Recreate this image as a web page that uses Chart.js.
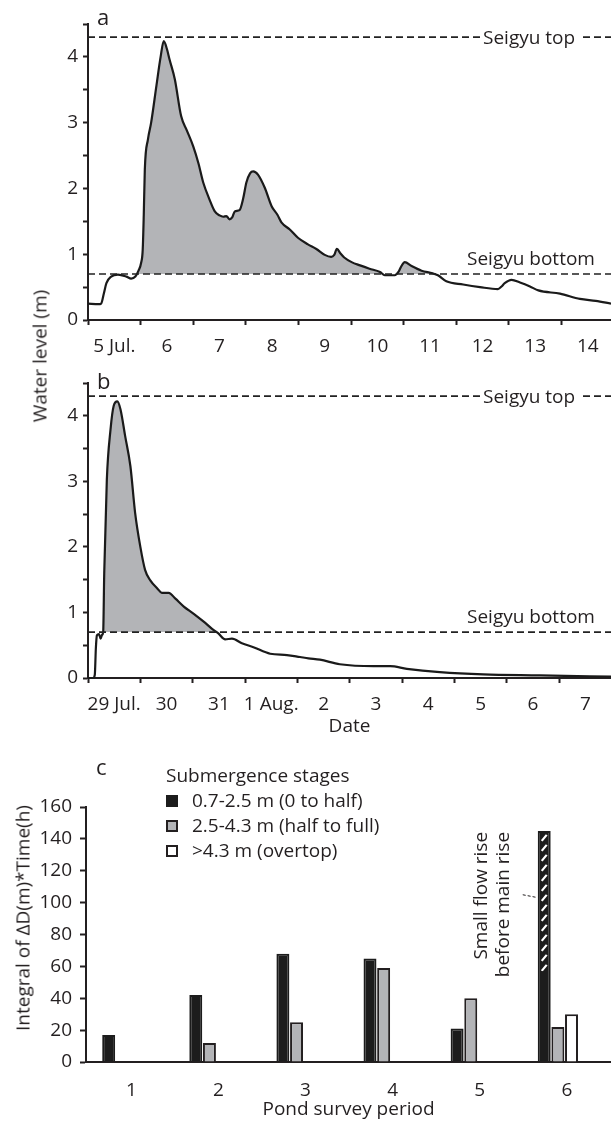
<!DOCTYPE html>
<html>
<head>
<meta charset="utf-8">
<script src="https://cdn.jsdelivr.net/npm/chart.js@4.4.1/dist/chart.umd.min.js"></script>
<style>
  html, body { margin: 0; padding: 0; background: #fff; }
  #wrap { position: relative; width: 611px; height: 1121px; overflow: hidden;
          font-family: "Open Sans", sans-serif; color: #231f20; }
  #wrap canvas { position: absolute; left: 0; }
  .lbl { position: absolute; font-size: 19px; line-height: 1; white-space: nowrap; }
  .panel { position: absolute; font-size: 22px; line-height: 1; }
  .rot { transform: translate(-50%, -50%) rotate(-90deg); }
  #legendC { position: absolute; left: 166px; top: 763px; font-size: 19px; line-height: 25px; }
  #legendC .row { display: flex; align-items: center; height: 25px; }
  #legendC .box { width: 12px; height: 12px; box-sizing: border-box; margin-right: 14px; }
</style>
</head>
<body>
<div id="wrap">
  <canvas id="chartA" width="611" height="360" style="top:0"></canvas>
  <canvas id="chartB" width="611" height="380" style="top:360px"></canvas>
  <canvas id="chartC" width="611" height="381" style="top:740px"></canvas>

  <div class="panel" style="left:97px; top:5px">a</div>
  <div class="panel" style="left:97px; top:369px">b</div>
  <div class="panel" style="left:96px; top:755px">c</div>
  <div class="lbl rot" style="left:40px; top:356px">Water level (m)</div>
  <div class="lbl rot" style="left:23px; top:918px">Integral of ΔD(m)*Time(h)</div>
  <div id="legendC"></div>
</div>

<script>
  // seigyu (weir) levels, m
  const seigyuTop = 4.3;
  const seigyuBottom = 0.7;

  // panel a: days after 5 Jul 00:00, water level (m)
  const dayA = [0, 0.2, 0.25, 0.3, 0.35, 0.44, 0.57, 0.73, 0.82, 0.9, 0.96, 1.01, 1.04, 1.06, 1.08,
    1.14, 1.2, 1.3, 1.38, 1.44, 1.5, 1.55, 1.65, 1.77, 1.88, 2.0, 2.1, 2.19, 2.31, 2.41, 2.5, 2.57,
    2.63, 2.69, 2.74, 2.79, 2.88, 2.95, 3.01, 3.08, 3.14, 3.23, 3.36, 3.49, 3.6, 3.68, 3.83, 3.99,
    4.18, 4.34, 4.5, 4.62, 4.68, 4.73, 4.8, 4.87, 5.01, 5.17, 5.35, 5.55, 5.64, 5.83, 5.9, 5.95,
    6.02, 6.15, 6.34, 6.55, 6.65, 6.81, 7.13, 7.45, 7.79, 7.86, 7.92, 8.05, 8.21, 8.4, 8.56, 8.97,
    9.35, 9.65, 9.94];
  const levelA = [0.25, 0.24, 0.25, 0.4, 0.56, 0.66, 0.69, 0.66, 0.63, 0.66, 0.75, 0.87, 1.07, 1.6, 2.29,
    2.75, 3.0, 3.56, 4.0, 4.24, 4.12, 3.96, 3.66, 3.1, 2.88, 2.64, 2.38, 2.09, 1.83, 1.65, 1.59, 1.57,
    1.58, 1.53, 1.56, 1.65, 1.67, 1.85, 2.09, 2.23, 2.26, 2.21, 2.01, 1.73, 1.6, 1.48, 1.38, 1.25,
    1.15, 1.08, 0.99, 0.96, 0.99, 1.08, 1.01, 0.95, 0.88, 0.83, 0.78, 0.73, 0.68, 0.68, 0.73, 0.81,
    0.88, 0.82, 0.75, 0.71, 0.68, 0.59, 0.54, 0.5, 0.47, 0.51, 0.56, 0.61, 0.57, 0.51, 0.45, 0.4,
    0.32, 0.29, 0.25];
  const dateLabelsA = ['5 Jul.', '6', '7', '8', '9', '10', '11', '12', '13', '14'];

  // panel b: days after 29 Jul 00:00, water level (m)
  const dayB = [0, 0.1, 0.13, 0.15, 0.17, 0.21, 0.24, 0.27, 0.29, 0.31, 0.36, 0.43, 0.49, 0.56, 0.62,
    0.71, 0.81, 0.9, 1.0, 1.09, 1.19, 1.32, 1.41, 1.54, 1.67, 1.83, 2.02, 2.21, 2.37, 2.49, 2.62,
    2.75, 2.94, 3.16, 3.48, 3.8, 4.05, 4.21, 4.43, 4.81, 5.45, 5.77, 6.09, 6.72, 7.55, 8.63, 9.99];
  const levelB = [0, 0, 0.05, 0.45, 0.65, 0.67, 0.6, 0.66, 0.7, 1.6, 3.03, 3.79, 4.15, 4.22, 4.1,
    3.69, 3.23, 2.52, 2.0, 1.65, 1.49, 1.37, 1.3, 1.3, 1.21, 1.09, 0.98, 0.86, 0.75, 0.68, 0.59,
    0.6, 0.53, 0.47, 0.37, 0.35, 0.32, 0.3, 0.28, 0.21, 0.18, 0.18, 0.14, 0.09, 0.055, 0.04, 0.02];
  const dateLabelsB = ['29 Jul.', '30', '31', '1 Aug.', '2', '3', '4', '5', '6', '7'];
  const dayTicks = [0, 1, 2, 3, 4, 5, 6, 7, 8, 9];

  // panel c: integral of dD * time per survey period
  const periods = [1, 2, 3, 4, 5, 6];
  const stageNames = ['0.7-2.5 m (0 to half)', '2.5-4.3 m (half to full)', '>4.3 m (overtop)'];
  const stageHalf = [17, 42, 68, 65, 21, 145];
  const stageFull = [null, 12, 25, 59, 40, 22];
  const stageOvertop = [null, null, null, null, null, 30];
  const smallRiseFrom = 57; // period 6: hatched part of the first bar starts here

  const ink = '#231f20';
  const grey = '#b3b4b7';
  Chart.defaults.font.family = '"Open Sans", sans-serif';
  Chart.defaults.font.size = 19;
  Chart.defaults.color = ink;

  const seigyuLabels = {
    id: 'seigyuLabels',
    afterDatasetsDraw(chart) {
      const { ctx, scales: { y } } = chart;
      const yt = y.getPixelForValue(seigyuTop);
      const yb = y.getPixelForValue(seigyuBottom);
      ctx.save();
      ctx.font = '19px "Open Sans"';
      ctx.textBaseline = 'alphabetic';
      const w = ctx.measureText('Seigyu top').width;
      ctx.fillStyle = '#fff';
      ctx.fillRect(480, yt - 4, w + 7, 8);
      ctx.fillStyle = ink;
      ctx.fillText('Seigyu top', 483, yt + 7);
      ctx.fillText('Seigyu bottom', 467, yb - 9);
      ctx.restore();
    }
  };

  function levelChart(id, days, levels, labels, xMax, xHeight, topPad, title) {
    const halfDay = (611 - 88) / xMax / 2;
    const ref = v => [{ x: 0, y: v }, { x: xMax, y: v }];
    return new Chart(document.getElementById(id), {
      type: 'line',
      data: {
        datasets: [
          {
            data: days.map((d, i) => ({ x: d, y: levels[i] })),
            borderColor: '#1a1a1a', borderWidth: 2.2, pointRadius: 0,
            cubicInterpolationMode: 'monotone', clip: 4,
            fill: { target: { value: seigyuBottom }, above: grey, below: 'rgba(0,0,0,0)' },
          },
          { data: ref(seigyuTop), borderColor: '#222', borderWidth: 1.6, borderDash: [7, 4], pointRadius: 0, fill: false, order: -1 },
          { data: ref(seigyuBottom), borderColor: '#222', borderWidth: 1.6, borderDash: [7, 4], pointRadius: 0, fill: false, order: -1 },
        ],
      },
      options: {
        responsive: false, animation: false, devicePixelRatio: 1,
        layout: { padding: { top: topPad, left: 0, right: 0, bottom: 0 } },
        plugins: { legend: { display: false }, tooltip: { enabled: false } },
        scales: {
          x: {
            type: 'linear', min: 0, max: xMax,
            border: { color: ink, width: 2 },
            grid: { drawOnChartArea: false, tickLength: 5, tickColor: ink, tickWidth: 2 },
            ticks: {
              autoSkip: false, maxRotation: 0, includeBounds: false, padding: 10,
              labelOffset: halfDay,
              callback: v => labels[v] ?? '',
            },
            afterBuildTicks: s => { s.ticks = dayTicks.map(v => ({ value: v })); },
            afterFit: s => { s.height = xHeight; },
            title: title ? { display: true, text: title, padding: { top: 0, bottom: 2 } } : { display: false },
          },
          y: {
            min: 0, max: 4.5,
            border: { color: ink, width: 2 },
            grid: { drawOnChartArea: false, tickLength: 5, tickColor: ink, tickWidth: 2 },
            ticks: { stepSize: 0.5, padding: 5, callback: v => Number.isInteger(v) ? v : '' },
            afterFit: s => { s.width = 88; },
          },
        },
      },
      plugins: [seigyuLabels],
    });
  }

  levelChart('chartA', dayA, levelA, dateLabelsA, 9.94, 40, 24, null);
  levelChart('chartB', dayB, levelB, dateLabelsB, 9.99, 62, 23, 'Date');

  // hatched "small flow rise" part of period-6 bar and its note
  const smallRise = {
    id: 'smallRise',
    afterDatasetsDraw(chart) {
      const { ctx, scales: { y } } = chart;
      const bar = chart.getDatasetMeta(0).data[periods.length - 1];
      const left = bar.x - bar.width / 2, right = bar.x + bar.width / 2;
      const top = bar.y, bottom = y.getPixelForValue(smallRiseFrom);
      ctx.save();
      ctx.beginPath();
      ctx.rect(left + 1.5, top + 1.5, right - left - 3, bottom - top - 1.5);
      ctx.clip();
      ctx.strokeStyle = '#fff';
      ctx.lineWidth = 2.2;
      for (let yy = top + 7; yy < bottom + 3; yy += 10) {
        ctx.beginPath();
        ctx.moveTo(left + 4, yy + 3);
        ctx.lineTo(right - 4, yy - 3);
        ctx.stroke();
      }
      ctx.restore();

      ctx.save();
      ctx.fillStyle = ink;
      ctx.font = '19px "Open Sans"';
      ctx.textAlign = 'right';
      ctx.textBaseline = 'alphabetic';
      ctx.translate(left, top + 1);
      ctx.rotate(-Math.PI / 2);
      ctx.fillText('Small flow rise', 0, -51);
      ctx.fillText('before main rise', 0, -29);
      ctx.restore();

      const ly = y.getPixelForValue(104);
      ctx.save();
      ctx.strokeStyle = ink;
      ctx.lineWidth = 1;
      ctx.setLineDash([3, 2]);
      ctx.beginPath();
      ctx.moveTo(left - 15, ly - 1.5);
      ctx.lineTo(left - 2, ly + 1);
      ctx.stroke();
      ctx.restore();
    }
  };

  const barColors = [
    { bg: '#1c1c1c', border: '#1c1c1c' },
    { bg: grey, border: ink },
    { bg: '#fff', border: ink },
  ];
  const stageValues = [stageHalf, stageFull, stageOvertop];

  const chartC = new Chart(document.getElementById('chartC'), {
    type: 'bar',
    data: {
      datasets: stageValues.map((vals, k) => ({
        label: stageNames[k],
        data: periods.map((p, i) => ({ x: p, y: vals[i] })),
        backgroundColor: barColors[k].bg,
        borderColor: barColors[k].border,
        borderWidth: 2,
        categoryPercentage: 0.47,
        barPercentage: 0.95,
      })),
    },
    options: {
      responsive: false, animation: false, devicePixelRatio: 1,
      layout: { padding: { top: 67, left: 0, right: 0, bottom: 0 } },
      plugins: { legend: { display: false }, tooltip: { enabled: false } },
      scales: {
        x: {
          type: 'linear', min: 0.583, max: 6.61, offset: false,
          border: { color: ink, width: 2 },
          grid: { drawOnChartArea: false, drawTicks: false, offset: false },
          ticks: { autoSkip: false, maxRotation: 0, includeBounds: false, padding: 17, labelOffset: 9 },
          afterBuildTicks: s => { s.ticks = periods.map(v => ({ value: v })); },
          afterFit: s => { s.height = 59; },
          title: { display: true, text: 'Pond survey period', padding: { top: 0, bottom: 0 } },
        },
        y: {
          min: 0, max: 160,
          border: { color: ink, width: 2 },
          grid: { drawOnChartArea: false, tickLength: 6, tickColor: ink, tickWidth: 2 },
          ticks: { stepSize: 20, padding: 8 },
          afterFit: s => { s.width = 86; },
        },
      },
    },
    plugins: [smallRise],
  });

  // legend built from the bar datasets
  const legendEl = document.getElementById('legendC');
  const head = document.createElement('div');
  head.className = 'row';
  head.textContent = 'Submergence stages';
  legendEl.appendChild(head);
  chartC.data.datasets.forEach(ds => {
    const row = document.createElement('div');
    row.className = 'row';
    const box = document.createElement('span');
    box.className = 'box';
    box.style.background = ds.backgroundColor;
    box.style.border = '2px solid ' + ds.borderColor;
    row.appendChild(box);
    row.appendChild(document.createTextNode(ds.label));
    legendEl.appendChild(row);
  });
</script>
</body>
</html>
